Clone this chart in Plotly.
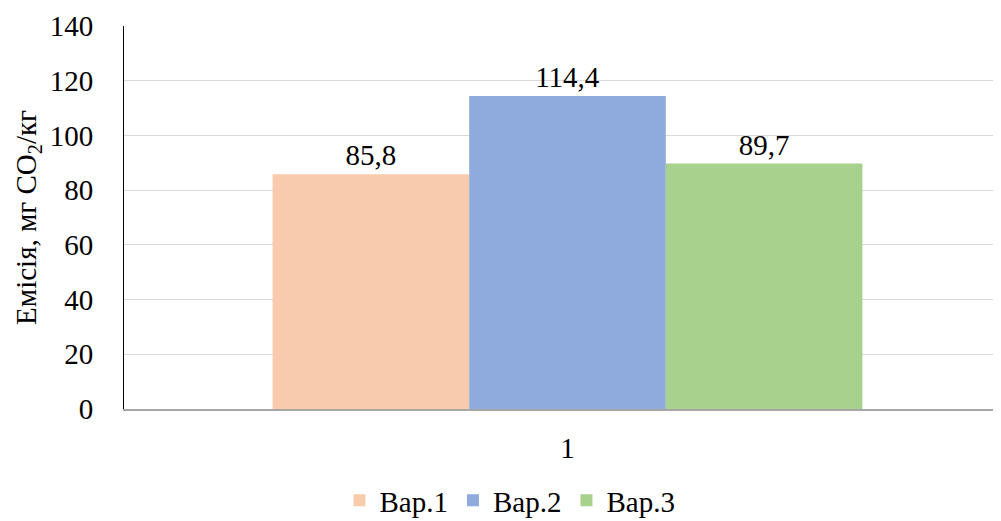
import plotly.graph_objects as go

categories = ["1"]
series_names = ["Вар.1", "Вар.2", "Вар.3"]
values = [85.8, 114.4, 89.7]
labels = ["85,8", "114,4", "89,7"]
colors = ["#F8CBAD", "#8FAADC", "#A9D18E"]
y_ticks = [0, 20, 40, 60, 80, 100, 120, 140]

FONT = "Liberation Serif"
FS = 29

fig = go.Figure()
for name, v, lab, c in zip(series_names, values, labels, colors):
    fig.add_trace(go.Bar(
        x=categories, y=[v], name=name, marker=dict(color=c, line=dict(width=0)),
        text=[lab], textposition="outside", cliponaxis=False,
        textfont=dict(family=FONT, size=FS, color="#000000"),
    ))

fig.update_layout(
    width=1003, height=521,
    margin=dict(l=116, r=0, t=18, b=120, autoexpand=False),
    paper_bgcolor="white", plot_bgcolor="white",
    barmode="group", bargap=0.335, bargroupgap=0,
    font=dict(family=FONT, size=FS, color="#000000"),
    showlegend=True,
    legend=dict(orientation="h", x=502 / 1003, xanchor="center", xref="container",
                y=0.055, yanchor="middle", yref="container",
                font=dict(family=FONT, size=FS, color="#000000"),
                traceorder="normal"),
)
fig.update_yaxes(
    range=[0, 140], tickvals=y_ticks, ticktext=[str(t) for t in y_ticks],
    showgrid=True, gridcolor="#D9D9D9", gridwidth=1.3,
    showline=True, linecolor="#000000", linewidth=1,
    ticks="", ticklabelstandoff=24, zeroline=False, automargin=False,
    tickfont=dict(family=FONT, size=FS, color="#000000"),
    title=dict(text="Емісія, мг CO<sub>2</sub>/кг", font=dict(family=FONT, size=FS, color="#000000"), standoff=4),
)
fig.update_xaxes(
    showline=True, linecolor="#A6A6A6", linewidth=2, ticks="", automargin=False,
    ticklabelstandoff=12, tickfont=dict(family=FONT, size=FS, color="#000000"),
)
fig.write_html("out.html", config={"responsive": False})
